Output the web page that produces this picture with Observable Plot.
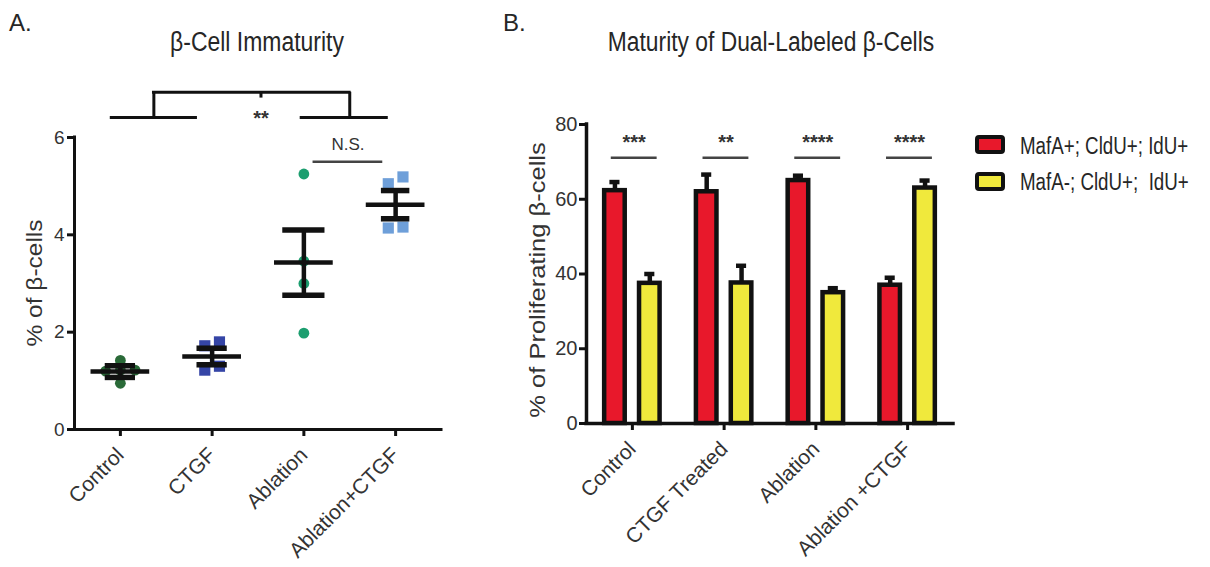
<!DOCTYPE html>
<html><head><meta charset="utf-8">
<script src="https://cdn.jsdelivr.net/npm/d3@7"></script>
<script src="https://cdn.jsdelivr.net/npm/@observablehq/plot@0.6"></script>
<style>
body{margin:0;background:#fff;}
#root{position:relative;width:1210px;height:567px;overflow:hidden;font-family:"Liberation Sans",Arial,sans-serif;color:#262626}
.abs{position:absolute;white-space:pre;line-height:1}
.sw{position:absolute;box-sizing:border-box;border:4px solid #111;border-radius:4px}
</style></head><body><div id="root"></div>
<script>
// ---------- Panel A data ----------
const catsA = ["Control", "CTGF", "Ablation", "Ablation+CTGF"];
const ptsControl = [1.42, 1.22, 1.20, 1.22, 0.95];
const ptsCTGF = [1.80, 1.72, 1.22, 1.30];
const ptsAblation = [5.25, 3.46, 3.00, 1.98];
const ptsAblCTGF = [5.19, 5.05, 4.14, 4.16];
const meanA = [1.19, 1.50, 3.43, 4.62];
const semA = [0.12, 0.17, 0.67, 0.29];
const yTicksA = [0, 2, 4, 6];
const titleA = "β-Cell Immaturity";
const yLabelA = "% of β-cells";

// ---------- Panel B data ----------
const catsB = ["Control", "CTGF Treated", "Ablation", "Ablation +CTGF"];
const seriesB = ["MafA+; CldU+; IdU+", "MafA-; CldU+;  IdU+"];
const mafPos = [62.3, 62, 65, 37];
const mafPosErr = [2.3, 4.6, 1.3, 2];
const mafNeg = [37.5, 37.6, 35, 63];
const mafNegErr = [2.5, 4.6, 1.2, 2];
const sigB = ["***", "**", "****", "****"];
const yTicksB = [0, 20, 40, 60, 80];
const titleB = "Maturity of Dual-Labeled β-Cells";
const yLabelB = "% of Proliferating β-cells";

// ---------- styles ----------
const REG = '"Liberation Sans",Arial,sans-serif';
const colorsA = ["#2a6a38", "#3545a6", "#1c9e6f", "#6e9fd9"];
const shapesA = ["circle", "square", "circle", "square"];
const capHalfA = [0.165, 0.165, 0.23, 0.155];
const colorsB = ["#e8182b", "#f0e93c"];
const offB = [-0.19, 0.19];

// simple cluster spread for overlapping points
function spread(vals, thr, step) {
  const idx = d3.range(vals.length).sort((a, b) => vals[a] - vals[b]);
  const off = new Array(vals.length).fill(0);
  let cl = [idx[0]];
  const flush = () => cl.forEach((i, k) => off[i] = (k - (cl.length - 1) / 2) * step);
  for (let k = 1; k < idx.length; k++) {
    if (vals[idx[k]] - vals[idx[k - 1]] < thr) cl.push(idx[k]);
    else { flush(); cl = [idx[k]]; }
  }
  flush();
  return off;
}

const groupsA = [ptsControl, ptsCTGF, ptsAblation, ptsAblCTGF];
const ptsA = groupsA.flatMap((vals, g) => {
  const o = spread(vals, 0.15, 0.16);
  return vals.map((v, i) => ({g, v, x: g + o[i], c: colorsA[g], s: shapesA[g]}));
});
const statsA = meanA.map((m, g) => ({g, m, lo: m - semA[g], hi: m + semA[g], cap: capHalfA[g]}));

// bracket annotations (category-index spans)
const bracketA = {left: [-0.11, 0.84], right: [1.96, 2.92], low: 6.41, high: 6.93, label: "**"};
const nsA = {span: [2.1, 2.86], y: 5.5, label: "N.S."};
const bL = (bracketA.left[0] + bracketA.left[1]) / 2;
const bR = (bracketA.right[0] + bracketA.right[1]) / 2 + 0.06;
const bMid = (bL + bR) / 2 + 0.1;

const plotA = Plot.plot({
  width: 480, height: 567,
  marginLeft: 74, marginRight: 39, marginTop: 137, marginBottom: 138,
  x: {domain: [-0.5, 3.5], axis: null},
  y: {domain: [0, 6], axis: null},
  color: {type: "identity"},
  style: {fontFamily: REG, color: "#111", background: "transparent", overflow: "visible"},
  marks: [
    Plot.axisY(yTicksA, {tickSize: 7, strokeWidth: 3, fontSize: 19, tickPadding: 3, fill: "#333", label: null}),
    Plot.axisX(d3.range(catsA.length), {tickFormat: i => catsA[i], tickRotate: -45, tickSize: 7, strokeWidth: 3, fontSize: 21, tickPadding: 15, fill: "#333", label: null}),
    Plot.ruleX([-0.5], {y1: 0, y2: 6, strokeWidth: 3, strokeLinecap: "square"}),
    Plot.ruleY([0], {x1: -0.5, x2: 3.5, strokeWidth: 3, strokeLinecap: "square"}),
    Plot.dot(ptsA.filter(d => d.s === "circle"), {x: "x", y: "v", r: 5.4, fill: "c", symbol: "circle"}),
    Plot.dot(ptsA.filter(d => d.s === "square"), {x: "x", y: "v", r: 6.3, fill: "c", symbol: "square"}),
    Plot.ruleX(statsA, {x: "g", y1: "lo", y2: "hi", strokeWidth: 4.5}),
    Plot.ruleY(statsA, {y: "m", x1: d => d.g - 0.32, x2: d => d.g + 0.32, strokeWidth: 4.5}),
    Plot.ruleY(statsA, {y: "lo", x1: d => d.g - d.cap, x2: d => d.g + d.cap, strokeWidth: 5.5}),
    Plot.ruleY(statsA, {y: "hi", x1: d => d.g - d.cap, x2: d => d.g + d.cap, strokeWidth: 5.5}),
    // significance bracket
    Plot.ruleY([bracketA.low], {x1: bracketA.left[0], x2: bracketA.left[1], strokeWidth: 3}),
    Plot.ruleY([bracketA.low], {x1: bracketA.right[0], x2: bracketA.right[1], strokeWidth: 3}),
    Plot.ruleX([bL, bR], {y1: bracketA.low, y2: bracketA.high, strokeWidth: 3}),
    Plot.ruleY([bracketA.high], {x1: bL - 0.015, x2: bR + 0.015, strokeWidth: 3}),
    Plot.ruleX([bMid], {y1: bracketA.high, y2: bracketA.high - 0.12, strokeWidth: 3}),
    Plot.text([bracketA.label], {x: bMid, y: 6.25, text: d => d, fontSize: 20, fontWeight: "bold", lineAnchor: "bottom", fill: "#333"}),
    Plot.ruleY([nsA.y], {x1: nsA.span[0], x2: nsA.span[1], stroke: "#444", strokeWidth: 2.5}),
    Plot.text([nsA.label], {x: (nsA.span[0] + nsA.span[1]) / 2, y: nsA.y + 0.25, text: d => d, fontSize: 17, lineAnchor: "bottom", fill: "#333"})
  ]
});

// ---------- Panel B ----------
const barsB = seriesB.flatMap((s, si) => catsB.map((c, g) => ({
  g, si, v: si === 0 ? mafPos[g] : mafNeg[g], e: si === 0 ? mafPosErr[g] : mafNegErr[g], cx: g + offB[si]
})));
const hw = 0.112, capB = 0.055;
const sigRows = sigB.map((s, g) => ({g, s}));
const sigLine = {y: 71.1, from: -0.23, to: 0.27, starY: 73.4};

const plotB = Plot.plot({
  width: 500, height: 567,
  marginLeft: 106, marginRight: 27, marginTop: 124, marginBottom: 144,
  x: {domain: [-0.5, 3.5], axis: null},
  y: {domain: [0, 80], axis: null},
  style: {fontFamily: REG, color: "#111", background: "transparent", overflow: "visible"},
  marks: [
    Plot.axisY(yTicksB, {tickSize: 7, strokeWidth: 3, fontSize: 20, tickPadding: 2, fill: "#333", label: null}),
    Plot.axisX(d3.range(catsB.length), {tickFormat: i => catsB[i], tickRotate: -45, tickSize: 7, strokeWidth: 3, fontSize: 21, tickPadding: 15, fill: "#333", label: null}),
    Plot.ruleX(barsB, {x: "cx", y1: "v", y2: d => d.v + d.e, strokeWidth: 4.5}),
    Plot.ruleY(barsB, {y: d => d.v + d.e, x1: d => d.cx - capB, x2: d => d.cx + capB, strokeWidth: 4.5}),
    Plot.rect(barsB.filter(d => d.si === 0), {x1: d => d.cx - hw, x2: d => d.cx + hw, y1: 0, y2: "v", fill: colorsB[0], stroke: "#111", strokeWidth: 4.5}),
    Plot.rect(barsB.filter(d => d.si === 1), {x1: d => d.cx - hw, x2: d => d.cx + hw, y1: 0, y2: "v", fill: colorsB[1], stroke: "#111", strokeWidth: 4.5}),
    Plot.ruleX([-0.5], {y1: 0, y2: 80, strokeWidth: 3.5, strokeLinecap: "square"}),
    Plot.ruleY([0], {x1: -0.5, x2: 3.5, strokeWidth: 3.5, strokeLinecap: "square"}),
    Plot.ruleY(sigRows, {y: sigLine.y, x1: d => d.g + sigLine.from, x2: d => d.g + sigLine.to, stroke: "#444", strokeWidth: 2.5}),
    Plot.text(sigRows, {x: d => d.g + 0.02, y: sigLine.starY, text: "s", fontSize: 20, fontWeight: "bold", lineAnchor: "bottom", fill: "#333"})
  ]
});

const root = document.getElementById("root");
plotA.style.position = "absolute"; plotA.style.left = "0px"; plotA.style.top = "0px";
plotB.style.position = "absolute"; plotB.style.left = "480px"; plotB.style.top = "0px";
root.appendChild(plotA);
root.appendChild(plotB);

function addText(txt, {left, top, size, sx = 1, center = false, rotate = false, color}) {
  const d = document.createElement("div");
  d.className = "abs";
  d.textContent = txt;
  d.style.left = left + "px";
  d.style.top = top + "px";
  d.style.fontSize = size + "px";
  if (color) d.style.color = color;
  if (rotate) d.style.transform = `translate(-50%,-50%) rotate(-90deg) scaleY(${sx})`;
  else if (center) d.style.transform = `translateX(-50%) scaleX(${sx})`;
  else { d.style.transformOrigin = "0 0"; d.style.transform = `scaleX(${sx})`; }
  root.appendChild(d);
}
addText("A.", {left: 9, top: 11, size: 24});
addText("B.", {left: 503, top: 11, size: 24});
addText(titleA, {left: 257, top: 29, size: 27, sx: 0.85, center: true});
addText(titleB, {left: 771, top: 29, size: 27, sx: 0.845, center: true});
addText(yLabelA, {left: 35, top: 283, size: 24.5, sx: 0.88, rotate: true, color: "#333"});
addText(yLabelB, {left: 538, top: 280, size: 25.5, sx: 0.85, rotate: true, color: "#333"});

// legend
seriesB.forEach((s, i) => {
  const sw = document.createElement("div");
  sw.className = "sw";
  sw.style.left = "975px";
  sw.style.top = (135 + i * 37) + "px";
  sw.style.width = "30px";
  sw.style.height = "19px";
  sw.style.background = colorsB[i];
  root.appendChild(sw);
  addText(s, {left: 1020, top: 135 + i * 36, size: 23, sx: 0.815});
});
</script>
</body></html>
